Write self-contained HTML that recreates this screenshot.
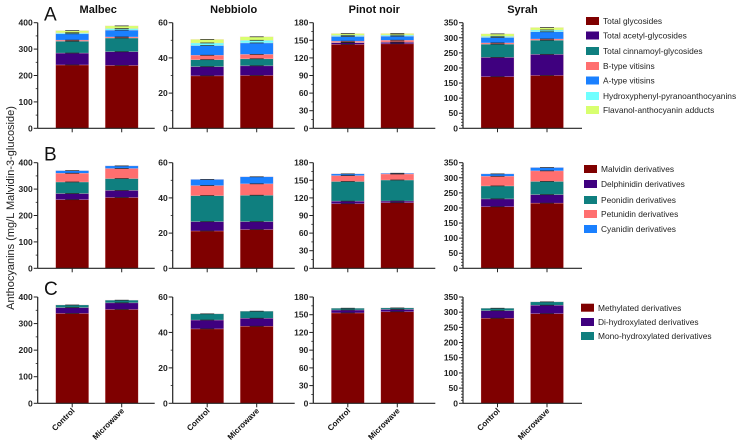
<!DOCTYPE html>
<html><head><meta charset="utf-8"><style>
body{margin:0;background:#fff;}
svg{display:block;font-family:"Liberation Sans",Arial,sans-serif;}
</style></head><body>
<svg id="chart" width="740" height="445" viewBox="0 0 740 445" xmlns="http://www.w3.org/2000/svg"></svg>
<script>
const wines = ["Malbec","Nebbiolo","Pinot noir","Syrah"];
const treatments = ["Control","Microwave"];
const yMaxes = [400,60,180,350];
const yTickSteps = [100,20,30,50];
const seriesA = ["Total glycosides","Total acetyl-glycosides","Total cinnamoyl-glycosides","B-type vitisins","A-type vitisins","Hydroxyphenyl-pyranoanthocyanins","Flavanol-anthocyanin adducts"];
const seriesB = ["Malvidin derivatives","Delphinidin derivatives","Peonidin derivatives","Petunidin derivatives","Cyanidin derivatives"];
const seriesC = ["Methylated derivatives","Di-hydroxylated derivatives","Mono-hydroxylated derivatives"];
const colorsA = ["#7f0000","#3f007f","#0f7f7f","#ff6f6f","#1a80ff","#6fffff","#d8ff6f"];
const colorsB = ["#7f0000","#3f007f","#0f7f7f","#ff6f6f","#1a80ff"];
const colorsC = ["#7f0000","#3f007f","#0f7f7f"];
// values [wine][treatment][series]
const valuesA = [
 [[240,45,45,4,24,4,8],[238,52,52,4,26,6,10]],
 [[29.8,5.2,4,2.5,5.5,1.5,2],[30,5.5,4,2.5,6.5,1.5,2]],
 [[143,3,0.5,2,8,2,3],[144,2.6,0.5,3,7,2,2.5]],
 [[171,64,44,4,18,4,8],[175,70,47,4,24,6,8]]
];
const valuesB = [
 [[260,23,44,33,10],[268,27,45,38,10]],
 [[21.2,5.3,14.8,5.7,3.5],[22,4.5,15,6.5,4]],
 [[110,4.5,33.5,10,3],[111.8,2.9,35.8,10.2,1.3]],
 [[204,26,43,32,8],[216,28,44,35,11]]
];
const valuesC = [
 [[338,22,10],[353,25,10]],
 [[42,5,3.5],[43.5,4.5,4]],
 [[153,5,3],[155,4,2.5]],
 [[280,25,8],[295,28,11]]
];
const rows = [
 {label:"A",series:seriesA,colors:colorsA,values:valuesA,top:22.7,zero:128.3,legX:586,legY:[21,35.5,51,66,80.5,96,110]},
 {label:"B",series:seriesB,colors:colorsB,values:valuesB,top:162.7,zero:268.3,legX:584,legY:[169,184,200,214,229]},
 {label:"C",series:seriesC,colors:colorsC,values:valuesC,top:297,zero:403.3,legX:581,legY:[307.7,322,336]}
];
const axisX = [37.7,172.7,313.3,463];
const axisW = [117,122,122,119];

const NS="http://www.w3.org/2000/svg";
const svg=document.getElementById('chart');
function mk(tag,attrs,parent){const e=document.createElementNS(NS,tag);for(const k in attrs)e.setAttribute(k,attrs[k]);(parent||svg).appendChild(e);return e;}

wines.forEach((w,i)=>{
  const t=mk('text',{x:axisX[i]+axisW[i]/2+ (i==0?2:0),y:13,'text-anchor':'middle','font-size':'11','font-weight':'bold',fill:'#111'});
  t.textContent=w;
  
  
});
const yt=mk('text',{x:0,y:0,transform:'translate(14,208) rotate(-90)','text-anchor':'middle','font-size':'11',fill:'#222'});
yt.textContent="Anthocyanins (mg/L Malvidin-3-glucoside)";



rows.forEach((row,ri)=>{
  const pl=mk('text',{x:44,y:row.top-2,'font-size':'19',fill:'#111'});
  pl.textContent=row.label;
  
  
  wines.forEach((w,wi)=>{
    const g=mk('g',{});
    
    
    const ax=axisX[wi], max=yMaxes[wi];
    const y=v=>row.zero-(v/max)*(row.zero-row.top);
    treatments.forEach((tr,ti)=>{
      const bx=ax+18+ti*49.5, bw=33;
      let cum=0;
      row.values[wi][ti].forEach((v,si)=>{
        const y0=y(cum), y1=y(cum+v);
        const r=mk('rect',{x:bx,y:y1,width:bw,height:Math.max(0,y0-y1),fill:row.colors[si],stroke:'rgba(255,200,200,0.5)','stroke-width':0.5},g);
        
        
        cum+=v;
      });
      cum=0;
      row.values[wi][ti].forEach((v,si)=>{
        cum+=v;
        const yy=y(cum);
        const c=mk('line',{x1:bx+bw/2-7,x2:bx+bw/2+7,y1:yy,y2:yy,stroke:'#111','stroke-width':0.8,opacity:0.8},g);
        
        
      });
      mk('line',{x1:bx+bw/2,x2:bx+bw/2,y1:row.zero,y2:row.zero+4,stroke:'#222','stroke-width':1},g);
      if(ri==2){
        const cx=bx+bw/2, cy=row.zero+8;
        const xl=mk('text',{x:0,y:0,transform:`translate(${cx+3},${cy}) rotate(-45)`,'text-anchor':'end','font-size':'8','font-weight':'bold',fill:'#111'},g);
        xl.textContent=tr;
        
        
      }
    });
    mk('line',{x1:ax,x2:ax,y1:row.top,y2:row.zero,stroke:'#222','stroke-width':1.2},g);
    mk('line',{x1:ax,x2:ax+axisW[wi],y1:row.zero,y2:row.zero,stroke:'#222','stroke-width':1.2},g);
    const step=yTickSteps[wi];
    for(let v=0;v<=max+1e-9;v+=step){
      mk('line',{x1:ax-4,x2:ax,y1:y(v),y2:y(v),stroke:'#222','stroke-width':1},g);
      const tl=mk('text',{x:ax-5,y:y(v)+3,'text-anchor':'end','font-size':'8.5','font-weight':'bold',fill:'#222'},g);
      tl.textContent=v;
      
      
      if(v+step<=max+1e-9){
        const nm = wi==3?5:2;
        for(let k=1;k<nm;k++) mk('line',{x1:ax-2,x2:ax,y1:y(v+step*k/nm),y2:y(v+step*k/nm),stroke:'#222','stroke-width':0.8},g);
      }
    }
  });
  row.series.forEach((s,si)=>{
    const lg=mk('g',{});
    
    
    mk('rect',{x:row.legX,y:row.legY[si]-4,width:13,height:8,fill:row.colors[si]},lg);
    const t=mk('text',{x:row.legX+17,y:row.legY[si]+3.2,'font-size':'8.4',fill:'#222'},lg);
    t.textContent=s;
  });
});
</script>
</body></html>
